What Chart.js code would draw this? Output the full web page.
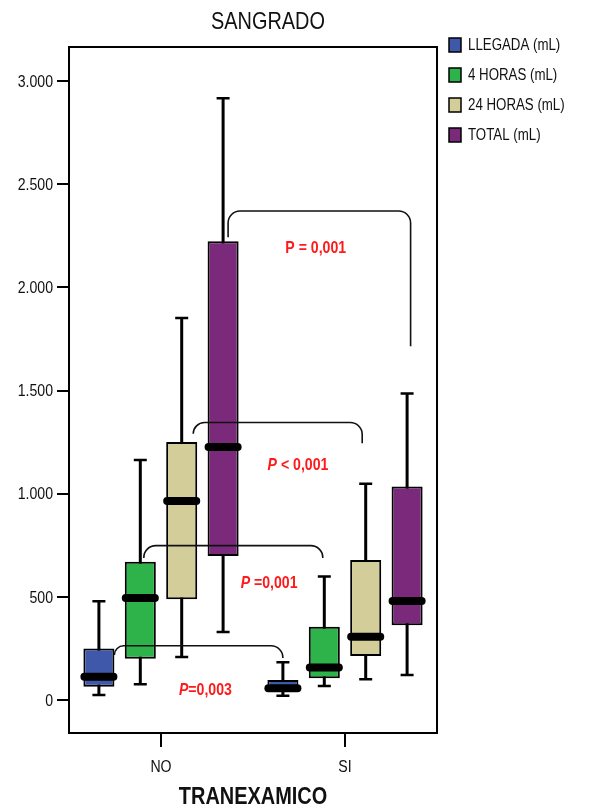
<!DOCTYPE html>
<html>
<head>
<meta charset="utf-8">
<script src="https://cdn.jsdelivr.net/npm/chart.js@4"></script>
<style>
  html, body { margin: 0; padding: 0; background: #fff; }
  #wrap { width: 589px; height: 809px; }
</style>
</head>
<body>
<div id="wrap"><canvas id="chart" width="589" height="809"></canvas></div>
<script>
// Grupos (eje X) y series
const groups = ['NO', 'SI'];
const seriesNames = ['LLEGADA (mL)', '4 HORAS (mL)', '24 HORAS (mL)', 'TOTAL (mL)'];
const seriesColors = ['#3F58A9', '#2EB34A', '#D3CE99', '#7B2A7B'];

// Valores de las cajas por serie: [NO, SI]
const whiskerLow = [[24, 21], [76, 68], [208, 100], [329, 121]];
const q1 = [[64, 45], [200, 105], [488, 213], [698, 362]];
const median = [[113, 57], [494, 158], [964, 307], [1226, 480]];
const q3 = [[249, 97], [670, 355], [1250, 678], [2224, 1035]];
const whiskerHigh = [[478, 183], [1163, 599], [1851, 1048], [2917, 1486]];

// Ticks del eje Y
const yTicks = [0, 500, 1000, 1500, 2000, 2500, 3000];

// Comparaciones NO vs SI (serie, y inicio, y arriba, y final, texto, y del texto)
const pSeries = [0, 1, 2, 3];
const pStartY = [218, 688, 1290, 2243];
const pTopY = [263, 748, 1345, 2370];
const pEndY = [203, 688, 1245, 1715];
const pItalic = [true, true, true, false];
const pText = ['=0,003', ' =0,001', ' < 0,001', ' = 0,001'];
const pTextY = [48, 567, 1139, 2190];

const FONT = '"Liberation Sans", Arial, sans-serif';
const SQUEEZE = 0.83; // no hay Arial Narrow: se comprime el texto

// texto estrecho
function narrowText(ctx, text, x, y, font, align) {
    ctx.save();
    ctx.font = font;
    ctx.textAlign = align || 'left';
    ctx.textBaseline = 'middle';
    ctx.translate(x, y);
    ctx.scale(SQUEEZE, 1);
    ctx.fillText(text, 0, 0);
    ctx.restore();
}

const datasets = seriesNames.map((name, i) => ({
    label: name,
    data: groups.map((g, j) => [q1[i][j], q3[i][j]]),
    backgroundColor: seriesColors[i],
    borderColor: '#000',
    borderWidth: 2,
    borderSkipped: false,
    categoryPercentage: 0.9,
    barPercentage: 0.75
}));

// dibuja bigotes, medianas, corchetes, leyenda y titulos
const boxPlugin = {
    id: 'boxExtras',
    beforeDatasetsDraw(chart) {
        const ctx = chart.ctx;
        const y = chart.scales.y;
        ctx.save();
        ctx.strokeStyle = '#000';
        seriesNames.forEach((n, i) => {
            chart.getDatasetMeta(i).data.forEach((bar, j) => {
                const top = y.getPixelForValue(whiskerHigh[i][j]);
                const bot = y.getPixelForValue(whiskerLow[i][j]);
                ctx.lineWidth = 3;
                ctx.beginPath();
                ctx.moveTo(bar.x, top);
                ctx.lineTo(bar.x, bot);
                ctx.stroke();
                ctx.lineWidth = 2.5;
                ctx.beginPath();
                ctx.moveTo(bar.x - 6.5, top);
                ctx.lineTo(bar.x + 6.5, top);
                ctx.moveTo(bar.x - 6.5, bot);
                ctx.lineTo(bar.x + 6.5, bot);
                ctx.stroke();
            });
        });
        ctx.restore();
    },
    afterDatasetsDraw(chart) {
        const ctx = chart.ctx;
        const x = chart.scales.x;
        const y = chart.scales.y;
        const area = chart.chartArea;
        ctx.save();

        // corchetes de comparacion
        ctx.strokeStyle = '#111';
        ctx.lineWidth = 1.6;
        const startOff = [15.5, 3.5, 11.5, 5];
        const endOff = [0, -1.5, -3.5, 3.5];
        const textFrac = [0.54, 0.70, 0.62, 0.48];
        pSeries.forEach((s, k) => {
            const a = chart.getDatasetMeta(s).data[0];
            const b = chart.getDatasetMeta(s).data[1];
            const x1 = a.x + startOff[k];
            const x2 = b.x + endOff[k];
            const y1 = y.getPixelForValue(pStartY[k]);
            const yt = y.getPixelForValue(pTopY[k]);
            const y2 = y.getPixelForValue(pEndY[k]);
            const r = 12;
            ctx.beginPath();
            ctx.moveTo(x1, y1);
            ctx.arcTo(x1, yt, x1 + r, yt, Math.min(r, y1 - yt));
            ctx.arcTo(x2, yt, x2, yt + r, r);
            ctx.lineTo(x2, y2);
            ctx.stroke();

            // texto P
            const tx = x1 + (x2 - x1) * textFrac[k];
            const ty = y.getPixelForValue(pTextY[k]);
            const fP = (pItalic[k] ? 'italic ' : '') + 'bold 17px ' + FONT;
            const fR = 'bold 17px ' + FONT;
            ctx.font = fP;
            const wP = ctx.measureText('P').width * SQUEEZE;
            ctx.font = fR;
            const wR = ctx.measureText(pText[k]).width * SQUEEZE;
            const x0 = tx - (wP + wR) / 2;
            ctx.fillStyle = '#FF1A1A';
            narrowText(ctx, 'P', x0, ty, fP);
            narrowText(ctx, pText[k], x0 + wP, ty, fR);
        });

        // medianas
        ctx.strokeStyle = '#000';
        ctx.lineWidth = 8;
        ctx.lineCap = 'round';
        seriesNames.forEach((n, i) => {
            chart.getDatasetMeta(i).data.forEach((bar, j) => {
                const m = y.getPixelForValue(median[i][j]);
                ctx.beginPath();
                ctx.moveTo(bar.x - bar.width / 2 + 1, m);
                ctx.lineTo(bar.x + bar.width / 2 - 1, m);
                ctx.stroke();
            });
        });
        ctx.lineCap = 'butt';

        // marco
        ctx.lineWidth = 2;
        ctx.strokeRect(area.left, area.top, area.right - area.left, area.bottom - area.top);

        ctx.fillStyle = '#111';
        // etiquetas de los ejes
        yTicks.forEach(v => {
            narrowText(ctx, v.toLocaleString('de-DE'), area.left - 16, y.getPixelForValue(v) + 1, '17px ' + FONT, 'right');
        });
        groups.forEach((g, j) => {
            narrowText(ctx, g, x.getPixelForValue(j), area.bottom + 34, '17px ' + FONT, 'center');
        });

        // titulo
        narrowText(ctx, 'SANGRADO', 268, 22, '24px ' + FONT, 'center');

        // titulo eje X
        narrowText(ctx, 'TRANEXAMICO', 253, 797, 'bold 24px ' + FONT, 'center');

        // leyenda
        seriesNames.forEach((n, i) => {
            const ly = 45 + i * 30;
            ctx.fillStyle = seriesColors[i];
            ctx.fillRect(449, ly - 7, 12, 14);
            ctx.lineWidth = 1.5;
            ctx.strokeStyle = '#000';
            ctx.strokeRect(449, ly - 7, 12, 14);
            ctx.fillStyle = '#111';
            narrowText(ctx, n, 468, ly + 1, '16px ' + FONT, 'left');
        });
        ctx.restore();
    }
};

new Chart(document.getElementById('chart'), {
    type: 'bar',
    data: { labels: groups, datasets: datasets },
    options: {
        responsive: false,
        animation: false,
        devicePixelRatio: 1,
        layout: { padding: { left: 0, top: 47, right: 152, bottom: 0 } },
        plugins: {
            legend: { display: false },
            tooltip: { enabled: false }
        },
        scales: {
            x: {
                grid: { offset: false, drawOnChartArea: false, tickLength: 14, color: '#000', lineWidth: 2 },
                border: { display: false },
                ticks: { display: false },
                afterFit: s => { s.height = 76; }
            },
            y: {
                min: -160,
                max: 3165,
                afterBuildTicks: s => { s.ticks = yTicks.map(v => ({ value: v })); },
                grid: { drawOnChartArea: false, tickLength: 12, color: '#000', lineWidth: 2 },
                border: { display: false },
                ticks: { display: false },
                afterFit: s => { s.width = 69; }
            }
        }
    },
    plugins: [boxPlugin]
});
</script>
</body>
</html>
